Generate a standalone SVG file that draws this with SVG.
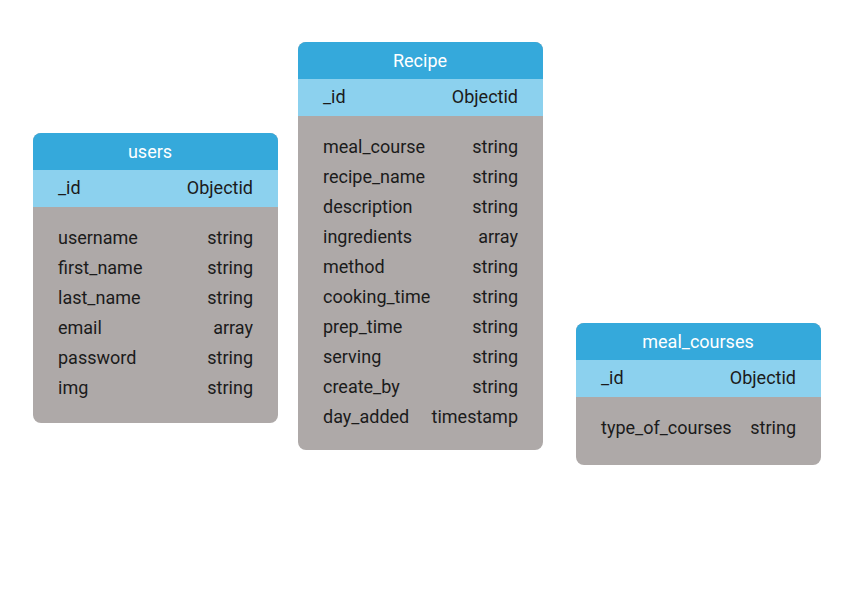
<svg xmlns="http://www.w3.org/2000/svg" width="842" height="595" viewBox="0 0 842 595">
<style>
.hd{fill:#35A9DB}
.idr{fill:#8CD1EE}
.bd{fill:#AEA9A8}
text{font-family:Roboto,"Liberation Sans",sans-serif;font-size:18px;fill:#1b1b1b}
.ht{fill:#ffffff;text-anchor:middle}
.r{text-anchor:end}
</style>
<rect width="842" height="595" fill="#ffffff"/>
<g id="users">
<rect class="bd" x="33" y="133" width="245" height="290" rx="8"/>
<path class="hd" d="M33,170 V141 A8,8 0 0 1 41,133 H270 A8,8 0 0 1 278,141 V170 Z"/>
<rect class="idr" x="33" y="170" width="245" height="37"/>
<text class="ht" x="150" y="158">users</text>
<text x="58" y="194">_id</text><text class="r" x="253" y="194">Objectid</text>
<text x="58" y="244">username</text><text class="r" x="253" y="244">string</text>
<text x="58" y="274">first_name</text><text class="r" x="253" y="274">string</text>
<text x="58" y="304">last_name</text><text class="r" x="253" y="304">string</text>
<text x="58" y="334">email</text><text class="r" x="253" y="334">array</text>
<text x="58" y="364">password</text><text class="r" x="253" y="364">string</text>
<text x="58" y="394">img</text><text class="r" x="253" y="394">string</text>
</g>
<g id="recipe">
<rect class="bd" x="298" y="42" width="245" height="408" rx="8"/>
<path class="hd" d="M298,79 V50 A8,8 0 0 1 306,42 H535 A8,8 0 0 1 543,50 V79 Z"/>
<rect class="idr" x="298" y="79" width="245" height="37"/>
<text class="ht" x="420" y="67">Recipe</text>
<text x="323" y="103">_id</text><text class="r" x="518" y="103">Objectid</text>
<text x="323" y="153">meal_course</text><text class="r" x="518" y="153">string</text>
<text x="323" y="183">recipe_name</text><text class="r" x="518" y="183">string</text>
<text x="323" y="213">description</text><text class="r" x="518" y="213">string</text>
<text x="323" y="243">ingredients</text><text class="r" x="518" y="243">array</text>
<text x="323" y="273">method</text><text class="r" x="518" y="273">string</text>
<text x="323" y="303">cooking_time</text><text class="r" x="518" y="303">string</text>
<text x="323" y="333">prep_time</text><text class="r" x="518" y="333">string</text>
<text x="323" y="363">serving</text><text class="r" x="518" y="363">string</text>
<text x="323" y="393">create_by</text><text class="r" x="518" y="393">string</text>
<text x="323" y="423">day_added</text><text class="r" x="518" y="423">timestamp</text>
</g>
<g id="meal_courses">
<rect class="bd" x="576" y="323" width="245" height="142" rx="8"/>
<path class="hd" d="M576,360 V331 A8,8 0 0 1 584,323 H813 A8,8 0 0 1 821,331 V360 Z"/>
<rect class="idr" x="576" y="360" width="245" height="37"/>
<text class="ht" x="698" y="348">meal_courses</text>
<text x="601" y="384">_id</text><text class="r" x="796" y="384">Objectid</text>
<text x="601" y="434">type_of_courses</text><text class="r" x="796" y="434">string</text>
</g>
<g id="connectors"></g>
</svg>
